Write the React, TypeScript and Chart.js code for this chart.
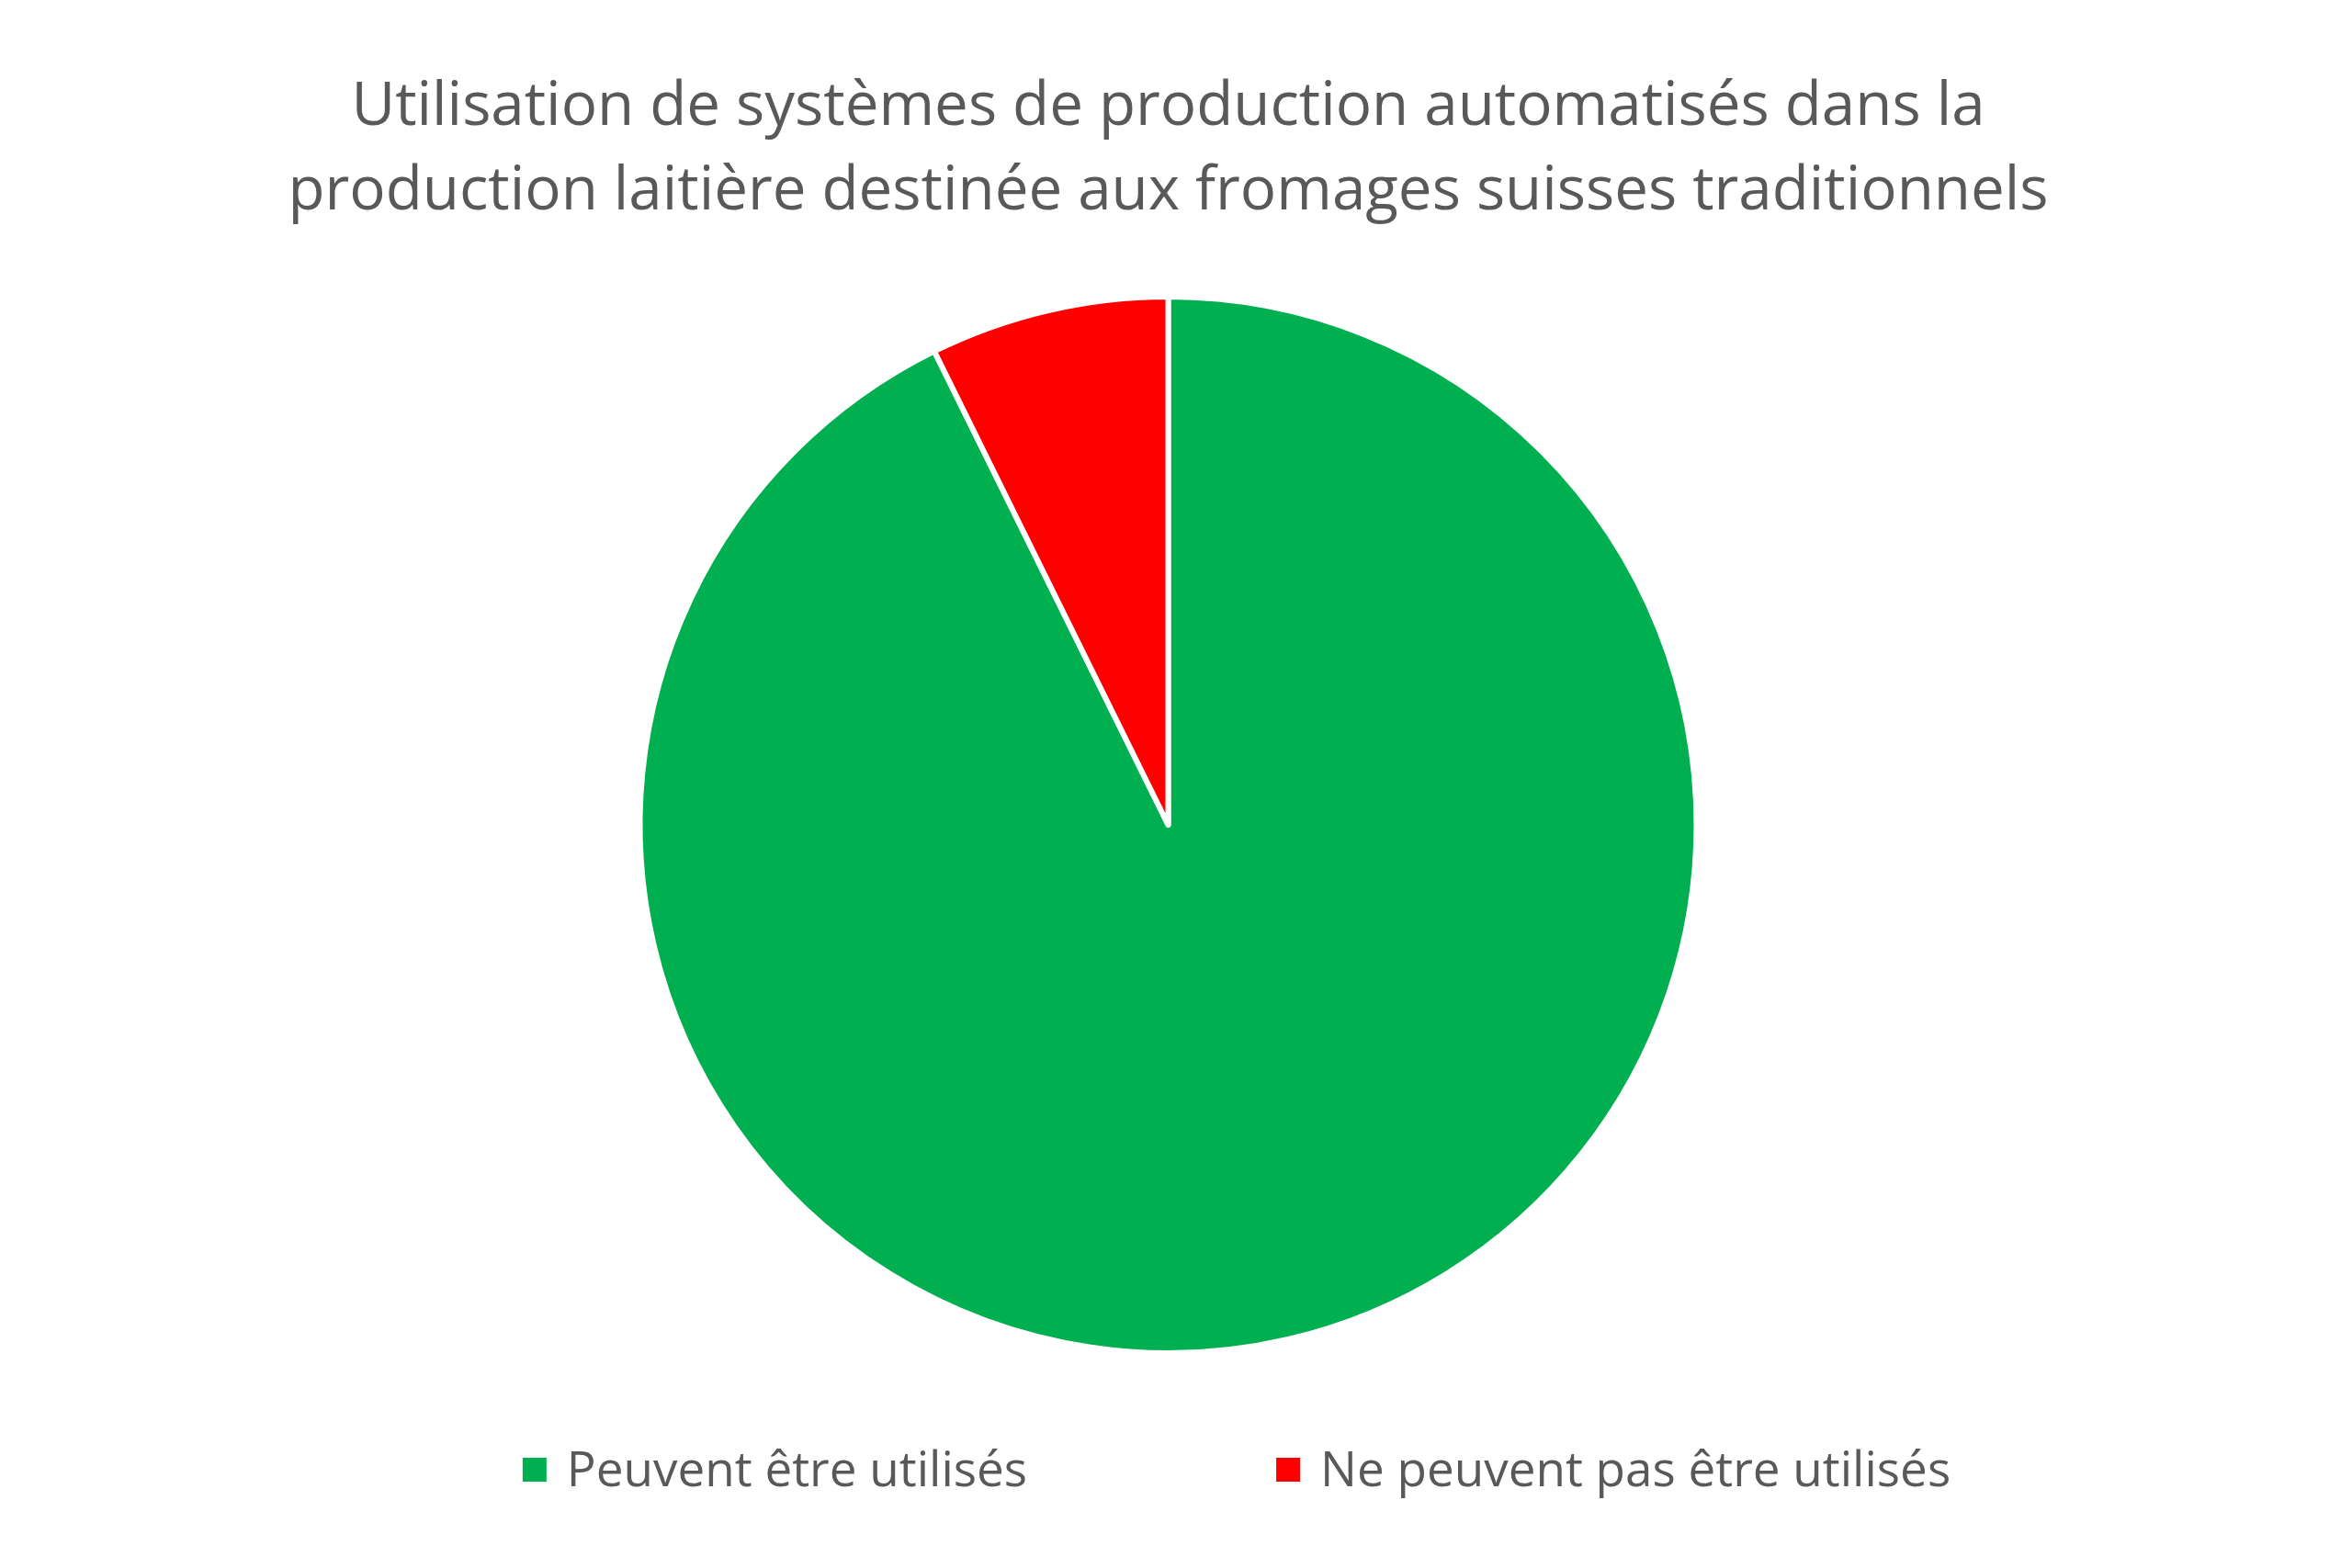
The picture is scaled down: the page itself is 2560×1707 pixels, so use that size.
import React, { useEffect, useRef } from "react";
import { Chart, registerables, type Plugin } from "chart.js";

Chart.register(...registerables);

const categories = ["Peuvent être utilisés", "Ne peuvent pas être utilisés"];
const shares = [92.7, 7.3];
const sliceColors = ["#00B050", "#FF0000"];
const titleLines = [
  "Utilisation de systèmes de production automatisés dans la",
  "production laitière destinée aux fromages suisses traditionnels",
];

const TEXT = "#595959";
const FONT = "'Open Sans', 'Noto Sans', sans-serif";

// Office-style legend: small squares, wide gap between entries
const bottomLegend: Plugin<"pie"> = {
  id: "bottomLegend",
  afterDraw(chart) {
    const { ctx } = chart;
    const labels = (chart.data.labels ?? []) as string[];
    const colors = chart.data.datasets[0].backgroundColor as string[];
    const box = 26;
    const gap = 22;
    const itemGap = 271;
    const centerX = 1346;
    const baseline = 1618;

    ctx.save();
    ctx.font = `53px ${FONT}`;
    ctx.textBaseline = "alphabetic";
    const widths = labels.map((l) => ctx.measureText(l).width);
    const total =
      widths.reduce((s, w) => s + box + gap + w, 0) + itemGap * (labels.length - 1);
    let x = centerX - total / 2;
    labels.forEach((l, i) => {
      ctx.fillStyle = colors[i];
      ctx.fillRect(x, baseline - 31, box, box);
      ctx.fillStyle = TEXT;
      ctx.fillText(l, x + box + gap, baseline);
      x += box + gap + widths[i] + itemGap;
    });
    ctx.restore();
  },
};

const App: React.FC = () => {
  const canvasRef = useRef<HTMLCanvasElement>(null);
  const chartRef = useRef<Chart<"pie"> | null>(null);

  useEffect(() => {
    if (!canvasRef.current) return;
    const ctx = canvasRef.current.getContext("2d");
    if (!ctx) return;

    chartRef.current = new Chart(ctx, {
      type: "pie",
      data: {
        labels: categories,
        datasets: [
          {
            data: shares,
            backgroundColor: sliceColors,
            borderColor: "#ffffff",
            borderWidth: 6,
            hoverBorderWidth: 6,
            borderJoinStyle: "round",
            hoverOffset: 0,
          },
        ],
      },
      options: {
        responsive: true,
        maintainAspectRatio: false,
        animation: false,
        devicePixelRatio: 1,
        layout: { padding: { top: 0, left: 0, right: 17, bottom: 231 } },
        plugins: {
          legend: { display: false },
          tooltip: { enabled: false },
          title: {
            display: true,
            text: titleLines,
            color: TEXT,
            font: { family: FONT, size: 65.5, weight: "normal", lineHeight: 1.4046 },
            padding: { top: 71, bottom: 65 },
          },
        },
      },
      plugins: [bottomLegend],
    });

    return () => {
      chartRef.current?.destroy();
      chartRef.current = null;
    };
  }, []);

  return (
    <div
      style={{
        position: "absolute",
        left: 0,
        top: 0,
        width: "2560px",
        height: "1707px",
        background: "#ffffff",
      }}
    >
      <canvas ref={canvasRef}></canvas>
    </div>
  );
};

export default App;
